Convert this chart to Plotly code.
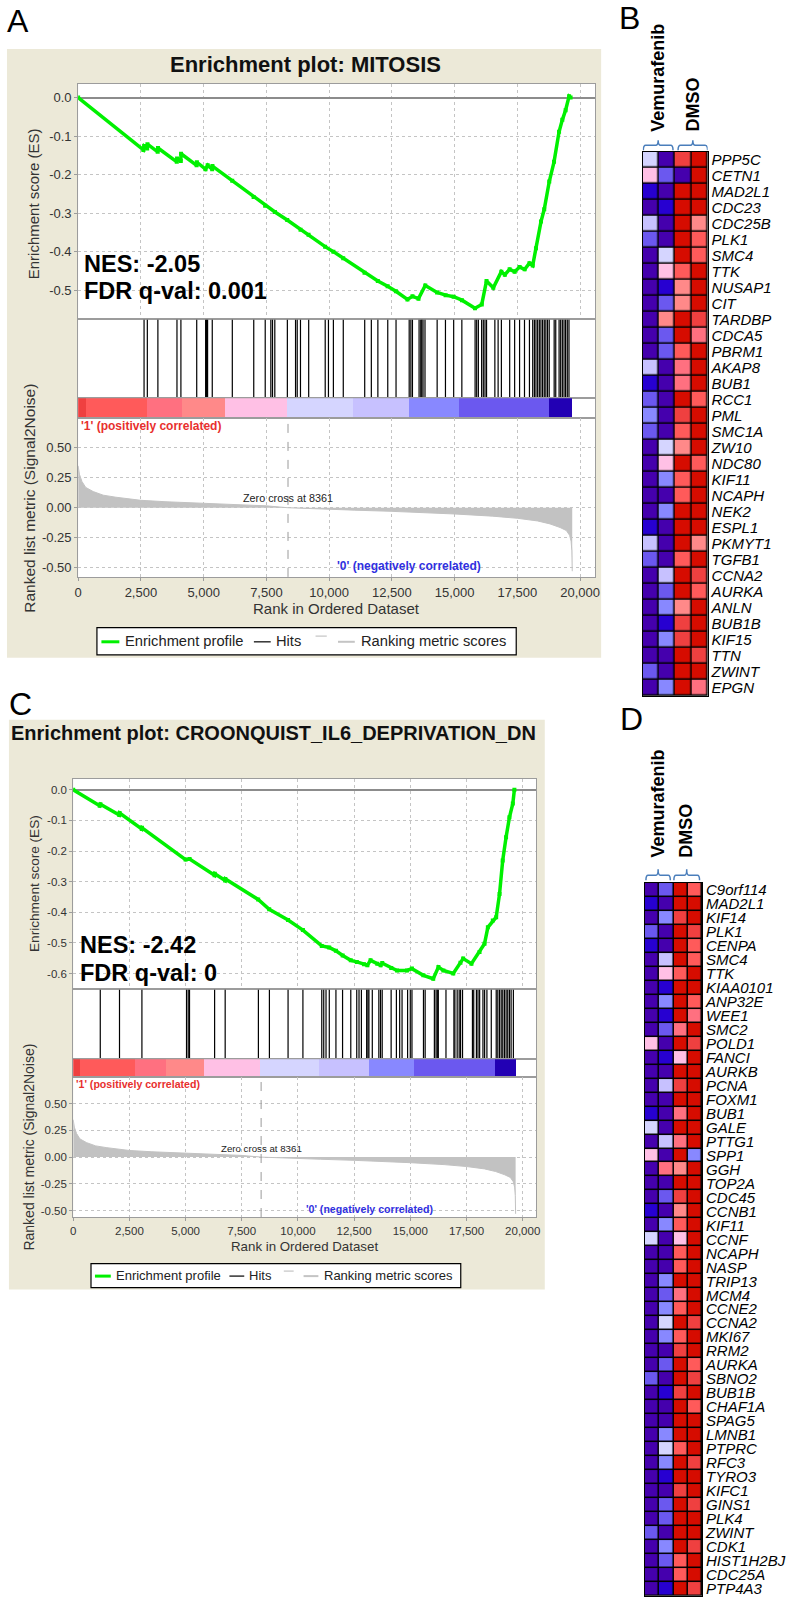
import plotly.graph_objects as go

W, H = 792, 1599

# ===================== DATA =====================
rank_ticks = [0, 2500, 5000, 7500, 10000, 12500, 15000, 17500, 20000]
es_ticks_a = [0.0, -0.1, -0.2, -0.3, -0.4, -0.5]
es_ticks_c = [0.0, -0.1, -0.2, -0.3, -0.4, -0.5, -0.6]
metric_ticks = [0.50, 0.25, 0.00, -0.25, -0.50]

title_a = "Enrichment plot: MITOSIS"
title_c = "Enrichment plot: CROONQUIST_IL6_DEPRIVATION_DN"
nes_a, fdr_a = "-2.05", "0.001"
nes_c, fdr_c = "-2.42", "0"
legend_names = ['Enrichment profile', 'Hits', '', 'Ranking metric scores']

es_a_rank = [0, 2600, 2630, 2750, 2760, 3170, 3180, 3930, 3940, 4090, 4100, 4720, 4730,
             5075, 5160, 5340, 5350, 6140, 6990, 7450, 7840, 8330, 8860, 9180, 9840,
             10170, 10560, 11410, 11940, 12330, 12660, 13120, 13320, 13560, 13830,
             14300, 14640, 14960, 15290, 15810, 16080, 16270, 16540, 16860, 17000,
             17190, 17390, 17590, 17790, 17980, 18110, 18240, 18440, 18570, 18770,
             18960, 19160, 19290, 19420, 19560, 19620]
es_a_val = [0.0, -0.136, -0.126, -0.132, -0.121, -0.141, -0.131, -0.167, -0.158, -0.165,
            -0.146, -0.176, -0.168, -0.186, -0.176, -0.186, -0.178, -0.216, -0.258,
            -0.281, -0.297, -0.318, -0.343, -0.356, -0.387, -0.400, -0.417, -0.455,
            -0.476, -0.490, -0.503, -0.524, -0.516, -0.522, -0.488, -0.506, -0.513,
            -0.517, -0.526, -0.547, -0.537, -0.476, -0.494, -0.452, -0.460, -0.446,
            -0.452, -0.440, -0.446, -0.430, -0.436, -0.391, -0.322, -0.290, -0.218,
            -0.167, -0.089, -0.058, -0.033, 0.003, 0.0]

hits_a = [2626, 2756, 3177, 3937, 4094, 4724, 5079, 5118, 5157, 5343, 6142, 6996, 7453,
          7677, 7744, 7835, 8335, 8661, 8728, 8858, 9185, 9843, 9972, 10169, 10563,
          11417, 11681, 11941, 12335, 12665, 13189, 13256, 13319, 13583, 13650, 13689,
          13740, 13819, 14303, 14634, 14961, 15287, 15815, 15878, 15945, 16075, 16142,
          16209, 16271, 16602, 16732, 16862, 17193, 17390, 17587, 17783, 17980, 18110,
          18177, 18240, 18307, 18374, 18437, 18504, 18571, 18634, 18701, 18768, 18965,
          19028, 19161, 19224, 19291, 19358, 19421, 19488, 19555]

es_c_rank = [0, 1180, 1210, 2050, 2065, 3050, 3060, 5000, 5180, 6290, 6300, 6760, 6770,
             8230, 8720, 9560, 10220, 11060, 11390, 11690, 11990, 12350, 12620, 12940,
             13090, 13230, 13530, 13680, 13750, 14150, 14410, 14850, 15070, 15580,
             16020, 16250, 16470, 16910, 17230, 17350, 17720, 18080, 18300, 18450,
             18670, 18820, 18970, 19110, 19260, 19410, 19560, 19630]
es_c_val = [0.0, -0.052, -0.047, -0.082, -0.076, -0.128, -0.124, -0.228, -0.226, -0.279,
            -0.274, -0.296, -0.291, -0.358, -0.390, -0.425, -0.458, -0.510, -0.515,
            -0.526, -0.541, -0.557, -0.562, -0.570, -0.573, -0.557, -0.568, -0.573,
            -0.566, -0.582, -0.590, -0.590, -0.584, -0.606, -0.617, -0.579, -0.590,
            -0.600, -0.565, -0.551, -0.568, -0.530, -0.503, -0.449, -0.427, -0.416,
            -0.340, -0.231, -0.155, -0.090, -0.045, 0.0]

hits_c = [1204, 2060, 3057, 5042, 5117, 5175, 6292, 6762, 8240, 8730, 9560, 10221, 11060,
          11147, 11249, 11394, 11690, 11985, 12351, 12616, 12717, 12823, 13057, 13114,
          13158, 13308, 13599, 13674, 13749, 14146, 14380, 14526, 14632, 14879, 14998,
          15073, 15585, 15660, 16070, 16145, 16202, 16246, 16586, 16939, 16983, 17084,
          17173, 17235, 17323, 17764, 17821, 17940, 18011, 18085, 18231, 18306, 18408,
          18602, 18822, 18893, 18968, 19043, 19113, 19188, 19262, 19334, 19409, 19484,
          19585]

metric_rank = [0, 50, 150, 300, 600, 1000, 1500, 2500, 3500, 5000, 6500, 7500, 8361, 9000,
               10000, 11000, 12500, 14000, 15000, 16500, 17500, 18300, 18800, 19200, 19450,
               19580, 19640, 19670, 19685]
metric_val = [0.35, 0.28, 0.22, 0.17, 0.135, 0.105, 0.088, 0.062, 0.05, 0.037, 0.025, 0.016,
              0.0, -0.006, -0.013, -0.02, -0.03, -0.042, -0.052, -0.07, -0.088, -0.11,
              -0.135, -0.165, -0.19, -0.23, -0.28, -0.36, -0.53]
zero_cross = 8361

bar_edges = [0, 330, 2750, 4130, 5840, 8335, 10960, 13190, 15160, 18770, 19690]
bar_colors = ['#EF4040', '#FF5A5A', '#FF7080', '#FF8989', '#FFC0E5', '#D5D5FF',
              '#C7C1FF', '#8888FF', '#6B58EF', '#2200B4']

palette = ['#4500AD', '#2700D1', '#6B58EF', '#8888FF', '#C7C1FF', '#D5D5FF',
           '#FFC0E5', '#FF8989', '#FF7080', '#FF5A5A', '#EF4040', '#D60C00']

groups = ['Vemurafenib', 'DMSO']

genes_b = ['PPP5C', 'CETN1', 'MAD2L1', 'CDC23', 'CDC25B', 'PLK1', 'SMC4', 'TTK', 'NUSAP1',
           'CIT', 'TARDBP', 'CDCA5', 'PBRM1', 'AKAP8', 'BUB1', 'RCC1', 'PML', 'SMC1A',
           'ZW10', 'NDC80', 'KIF11', 'NCAPH', 'NEK2', 'ESPL1', 'PKMYT1', 'TGFB1', 'CCNA2',
           'AURKA', 'ANLN', 'BUB1B', 'KIF15', 'TTN', 'ZWINT', 'EPGN']
b_vem1 = [5, 6, 1, 0, 4, 2, 0, 0, 0, 0, 0, 0, 0, 4, 1, 2, 3, 2, 0, 0, 0, 0, 0, 1, 4, 2, 0,
          0, 0, 0, 0, 0, 2, 0]
b_vem2 = [0, 2, 0, 1, 0, 0, 5, 6, 1, 2, 7, 2, 2, 0, 0, 0, 0, 0, 5, 6, 3, 0, 3, 0, 0, 0, 4,
          2, 3, 1, 3, 0, 0, 3]
b_dmso1 = [10, 0, 11, 11, 11, 11, 11, 9, 7, 7, 11, 11, 9, 8, 8, 11, 10, 9, 7, 11, 9, 9, 11,
           11, 11, 9, 11, 11, 7, 10, 10, 11, 11, 11]
b_dmso2 = [11, 11, 11, 11, 7, 9, 9, 11, 11, 11, 10, 8, 11, 11, 11, 9, 11, 11, 11, 9, 11, 11,
           11, 11, 7, 11, 10, 9, 11, 11, 11, 10, 11, 8]

genes_d = ['C9orf114', 'MAD2L1', 'KIF14', 'PLK1', 'CENPA', 'SMC4', 'TTK', 'KIAA0101',
           'ANP32E', 'WEE1', 'SMC2', 'POLD1', 'FANCI', 'AURKB', 'PCNA', 'FOXM1', 'BUB1',
           'GALE', 'PTTG1', 'SPP1', 'GGH', 'TOP2A', 'CDC45', 'CCNB1', 'KIF11', 'CCNF',
           'NCAPH', 'NASP', 'TRIP13', 'MCM4', 'CCNE2', 'CCNA2', 'MKI67', 'RRM2', 'AURKA',
           'SBNO2', 'BUB1B', 'CHAF1A', 'SPAG5', 'LMNB1', 'PTPRC', 'RFC3', 'TYRO3', 'KIFC1',
           'GINS1', 'PLK4', 'ZWINT', 'CDK1', 'HIST1H2BJ', 'CDC25A', 'PTP4A3']
d_vem1 = [0, 1, 0, 2, 1, 0, 0, 0, 0, 0, 0, 6, 0, 0, 0, 0, 1, 5, 0, 6, 0, 0, 0, 1, 0, 5, 0,
          0, 0, 0, 0, 0, 0, 0, 0, 2, 0, 0, 0, 0, 0, 0, 0, 0, 0, 0, 2, 0, 0, 0, 0]
d_vem2 = [2, 0, 3, 0, 0, 4, 6, 1, 3, 1, 2, 0, 1, 0, 4, 0, 0, 0, 4, 0, 8, 0, 2, 0, 3, 0, 0,
          0, 3, 2, 3, 5, 3, 0, 2, 0, 1, 0, 0, 3, 5, 3, 1, 0, 2, 2, 0, 3, 2, 0, 1]
d_dmso1 = [11, 11, 10, 11, 11, 11, 9, 11, 11, 11, 8, 11, 6, 11, 10, 11, 8, 11, 8, 11, 7, 11,
           10, 7, 9, 6, 9, 9, 11, 8, 9, 11, 9, 10, 11, 11, 10, 11, 11, 11, 9, 11, 11, 10, 11,
           11, 11, 11, 9, 9, 11]
d_dmso2 = [9, 11, 11, 10, 9, 9, 11, 11, 9, 8, 11, 10, 11, 11, 11, 11, 11, 11, 11, 3, 11, 11,
           11, 11, 11, 11, 11, 11, 11, 11, 11, 10, 11, 11, 9, 10, 11, 9, 11, 11, 11, 10, 11,
           11, 10, 11, 11, 10, 11, 11, 10]

# ===================== HELPERS =====================
FONT = 'Liberation Sans, Arial, sans-serif'


def px(x):
    return x / W


def py(y):
    return 1 - y / H


def aid(i, letter):
    return letter if i == 1 else f'{letter}{i}'


def lname(i, letter):
    return f'{letter}axis' if i == 1 else f'{letter}axis{i}'


fig = go.Figure()
layout = dict(width=W, height=H, margin=dict(l=0, r=0, t=0, b=0),
              paper_bgcolor='white', plot_bgcolor='white', showlegend=False,
              shapes=[], annotations=[], bargap=0)

GRID = dict(showgrid=True, gridcolor='#c4c4c4', griddash='dot', gridwidth=1)
FRAME = dict(showline=True, mirror=True, linecolor='#9c9c9c', linewidth=1)


def ann(text, x, y, size, color='black', xanchor='center', yanchor='middle',
        angle=0, xref='paper', yref='paper', family=FONT):
    layout['annotations'].append(dict(
        text=text, x=x, y=y, xref=xref, yref=yref, xanchor=xanchor, yanchor=yanchor,
        textangle=angle, showarrow=False, borderpad=0,
        font=dict(family=family, size=size, color=color)))


def pline(x0, x1, y0, y1, color, width, dash='solid'):
    layout['shapes'].append(dict(type='line', xref='paper', yref='paper', x0=px(x0),
                                 x1=px(x1), y0=py(y0), y1=py(y1),
                                 line=dict(color=color, width=width, dash=dash)))


def legend_box(left, cy, s, fs):
    h = 24 * s
    w = 374 * s
    layout['shapes'].append(dict(type='rect', xref='paper', yref='paper',
                                 x0=px(left), x1=px(left + w), y0=py(cy + h / 2),
                                 y1=py(cy - h / 2), fillcolor='white',
                                 line=dict(color='black', width=1.2)))
    # symbol offsets (relative to box left, in unscaled px), colour, width, raise
    syms = [(4, 20, '#00F000', 3, 0), (140, 155, '#333333', 1.5, 0),
            (195, 205, '#D0D0D0', 1.5, 5), (215, 230, '#C4C4C4', 2, 0)]
    texts = [24.5, 158.5, None, 234.5]
    for (a, b, col, wd, up), tx, name in zip(syms, texts, legend_names):
        pline(left + a * s, left + b * s, cy + 0.5 - up * s, cy + 0.5 - up * s, col, wd)
        if tx is not None:
            ann(name, px(left + tx * s), py(cy), fs, color='#222', xanchor='left')


def gsea_panel(n0, beige, xl, xr, rows, es_rng, met_rng, es_ticks, es_rank, es_val, hits,
               tick_fs, bold_fs, zero_fs, title, title_xy, title_fs, nes, fdr, nes_xy,
               ytitle_es, ytitle_met, xtitle_y, es_title_fs, met_title_fs, axis_fs,
               legend_left, legend_cy, legend_s, legend_fs):
    # beige panel background
    layout['shapes'].append(dict(type='rect', xref='paper', yref='paper', layer='below',
                                 x0=px(beige[0]), x1=px(beige[1]), y0=py(beige[3]),
                                 y1=py(beige[2]), fillcolor='#ECE9D8', line=dict(width=0)))
    yr = [es_rng, [0, 1], [0, 1], met_rng]
    for k in range(4):
        i = n0 + k
        top, bot = rows[k]
        xa = dict(domain=[px(xl), px(xr)], range=[0, 20600], anchor=aid(i, 'y'),
                  zeroline=False, tickvals=rank_ticks, showticklabels=False, ticks='',
                  showgrid=False, **FRAME)
        ya = dict(domain=[py(bot), py(top)], range=yr[k], anchor=aid(i, 'x'),
                  zeroline=False, showticklabels=False, ticks='', showgrid=False, **FRAME)
        if k in (0, 3):
            xa.update(GRID)
            ya.update(GRID)
        if k == 0:
            ya.update(tickvals=es_ticks, ticktext=[f'{v:.1f}' for v in es_ticks],
                      showticklabels=True, ticks='outside', ticklen=3, tickcolor='#9c9c9c',
                      tickfont=dict(family=FONT, size=tick_fs, color='#333'),
                      zeroline=True, zerolinecolor='#8c8c8c', zerolinewidth=1.5)
        if k == 3:
            ya.update(tickvals=metric_ticks, ticktext=[f'{v:.2f}' for v in metric_ticks],
                      showticklabels=True, ticks='outside', ticklen=3, tickcolor='#9c9c9c',
                      tickfont=dict(family=FONT, size=tick_fs, color='#333'))
            xa.update(showticklabels=True, tickformat=',d', ticks='outside', ticklen=3,
                      tickcolor='#9c9c9c', tickfont=dict(family=FONT, size=tick_fs, color='#333'))
        layout[lname(i, 'x')] = xa
        layout[lname(i, 'y')] = ya
        layout['shapes'].append(dict(type='rect', xref=f'{aid(i, "x")} domain',
                                     yref=f'{aid(i, "y")} domain', layer='below',
                                     x0=0, x1=1, y0=0, y1=1, fillcolor='white',
                                     line=dict(width=0)))
    xs = [aid(n0 + k, 'x') for k in range(4)]
    ys = [aid(n0 + k, 'y') for k in range(4)]
    # enrichment profile
    fig.add_trace(go.Scatter(x=es_rank, y=es_val, mode='lines+markers',
                             line=dict(color='#00F000', width=3.5),
                             marker=dict(symbol='square', size=4, color='#00F000'),
                             xaxis=xs[0], yaxis=ys[0], hoverinfo='skip'))
    # hits
    hx, hy = [], []
    for h in hits:
        hx += [h, h, None]
        hy += [0, 1, None]
    fig.add_trace(go.Scatter(x=hx, y=hy, mode='lines', line=dict(color='black', width=1.2),
                             xaxis=xs[1], yaxis=ys[1], hoverinfo='skip'))
    # ranked-list colour bar
    centers = [(a + b) / 2 for a, b in zip(bar_edges[:-1], bar_edges[1:])]
    widths = [b - a for a, b in zip(bar_edges[:-1], bar_edges[1:])]
    fig.add_trace(go.Bar(x=centers, y=[1] * len(centers), width=widths,
                         marker=dict(color=bar_colors, line=dict(width=0)),
                         xaxis=xs[2], yaxis=ys[2], hoverinfo='skip'))
    # ranking metric
    fig.add_trace(go.Scatter(x=metric_rank, y=metric_val, mode='lines', fill='tozeroy',
                             fillcolor='#C2C2C2', line=dict(color='#C2C2C2', width=1),
                             xaxis=xs[3], yaxis=ys[3], hoverinfo='skip'))
    layout['shapes'].append(dict(type='line', xref=xs[3], yref=f'{ys[3]} domain',
                                 x0=zero_cross, x1=zero_cross, y0=0, y1=1,
                                 line=dict(color='#9a9a9a', width=1, dash='dash')))
    # texts
    ann(f'<b>{title}</b>', px(title_xy[0]), py(title_xy[1]), title_fs, color='#111')
    ann(f'<b>NES: {nes}</b>', px(nes_xy[0]), py(nes_xy[1]), 23.5, xanchor='left')
    ann(f'<b>FDR q-val: {fdr}</b>', px(nes_xy[0]), py(nes_xy[2]), 23.5, xanchor='left')
    ann("<b>'1' (positively correlated)</b>", 60, 0.68, bold_fs, color='#E8302E',
        xanchor='left', xref=xs[3], yref=ys[3])
    ann(f'Zero cross at {zero_cross}', zero_cross, 0.083, zero_fs, color='#222',
        xref=xs[3], yref=ys[3])
    ann("<b>'0' (negatively correlated)</b>", 13190, -0.485, bold_fs, color='#3030E0',
        xref=xs[3], yref=ys[3])
    ann('Enrichment score (ES)', px(ytitle_es[0]), py(ytitle_es[1]), es_title_fs,
        color='#333', angle=-90)
    ann('Ranked list metric (Signal2Noise)', px(ytitle_met[0]), py(ytitle_met[1]),
        met_title_fs, color='#333', angle=-90)
    ann('Rank in Ordered Dataset', px((xl + xr) / 2), py(xtitle_y), axis_fs, color='#333')
    legend_box(legend_left, legend_cy, legend_s, legend_fs)


# ---- panel A ----
gsea_panel(1, beige=(3, 604, 47, 657), xl=75, xr=598,
           rows=[(82, 318), (318, 397), (397, 417), (417, 576)],
           es_rng=[-0.5759, 0.0355], met_rng=[-0.5775, 0.7475], es_ticks=es_ticks_a,
           es_rank=es_a_rank, es_val=es_a_val, hits=hits_a, tick_fs=13, bold_fs=12,
           zero_fs=10.8, title=title_a, title_xy=(305, 63), title_fs=22, nes=nes_a,
           fdr=fdr_a, nes_xy=(80, 262, 290), ytitle_es=(30, 202), ytitle_met=(25, 497),
           xtitle_y=608, es_title_fs=15, met_title_fs=15.5, axis_fs=15,
           legend_left=94, legend_cy=640.5, legend_s=1.134, legend_fs=14.7)

# ---- panel C ----
gsea_panel(5, beige=(5, 547, 719, 1290), xl=70, xr=538.3,
           rows=[(778, 989.3), (989.3, 1059.3), (1059.3, 1076.7), (1076.7, 1217.3)],
           es_rng=[-0.652, 0.0368], met_rng=[-0.56, 0.752], es_ticks=es_ticks_c,
           es_rank=es_c_rank, es_val=es_c_val, hits=hits_c, tick_fs=11.5, bold_fs=10.6,
           zero_fs=9.7, title=title_c, title_xy=(273, 732), title_fs=20, nes=nes_c,
           fdr=fdr_c, nes_xy=(76, 945, 973), ytitle_es=(31, 883), ytitle_met=(25, 1147),
           xtitle_y=1247, es_title_fs=13.6, met_title_fs=14, axis_fs=13.3,
           legend_left=88, legend_cy=1276, legend_s=1.0, legend_fs=13)

# ===================== HEATMAPS =====================
n_pal = len(palette)
cscale = []
for i, c in enumerate(palette):
    cscale.append([i / n_pal, c])
    cscale.append([(i + 1) / n_pal, c])


def heat_panel(i, genes, cols, xl, xr, top, bot, lab_fs, head_bottom, head_x,
               br_y, br_left, br_right):
    z = [[c[r] for c in cols] for r in range(len(genes))]
    xa_id, ya_id = aid(i, 'x'), aid(i, 'y')
    fig.add_trace(go.Heatmap(z=z, x=[0, 1, 2, 3], y=genes, colorscale=cscale,
                             zmin=-0.5, zmax=n_pal - 0.5, showscale=False,
                             xgap=1.5, ygap=1.5, xaxis=xa_id, yaxis=ya_id,
                             hoverinfo='skip'))
    layout[lname(i, 'x')] = dict(domain=[px(xl), px(xr)], range=[-0.5, 3.5],
                                 anchor=ya_id, showticklabels=False, showgrid=False,
                                 zeroline=False, ticks='', showline=True, mirror=True,
                                 linecolor='black', linewidth=1)
    layout[lname(i, 'y')] = dict(domain=[py(bot), py(top)], anchor=xa_id,
                                 autorange='reversed', side='right', showgrid=False,
                                 zeroline=False, ticks='', tickmode='array',
                                 tickvals=genes, ticktext=[f'<i>{g}</i>' for g in genes],
                                 tickfont=dict(family=FONT, size=lab_fs, color='black'),
                                 showline=True, mirror=True, linecolor='black',
                                 linewidth=1)
    layout['shapes'].append(dict(type='rect', xref=f'{xa_id} domain', yref=f'{ya_id} domain',
                                 layer='below', x0=0, x1=1, y0=0, y1=1,
                                 fillcolor='black', line=dict(width=0)))
    for g, hx in zip(groups, head_x):
        ann(f'<b>{g}</b>', hx, py(head_bottom), 18, angle=-90, yanchor='bottom',
            xref=xa_id)
    yb, yh, yt = py(br_y[0]), py(br_y[1]), py(br_y[2])
    for a, b in (br_left, br_right):
        m = (a + b) / 2
        d = 0.15
        path = (f'M {a},{yb} Q {a},{yh} {a + d},{yh} L {m - d},{yh} Q {m},{yh} {m},{yt} '
                f'Q {m},{yh} {m + d},{yh} L {b - d},{yh} Q {b},{yh} {b},{yb}')
        layout['shapes'].append(dict(type='path', xref=xa_id, yref='paper', path=path,
                                     line=dict(color='#4A7EBB', width=1.5)))


heat_panel(9, genes_b, [b_vem1, b_vem2, b_dmso1, b_dmso2], 646, 711.7, 150, 695, 15,
           head_bottom=131, head_x=[0.45, 2.59], br_y=(148.5, 143.5, 138.5),
           br_left=(-0.46, 1.37), br_right=(1.68, 3.5))
heat_panel(10, genes_d, [d_vem1, d_vem2, d_dmso1, d_dmso2], 648.3, 706, 882.7, 1596.7, 15,
           head_bottom=858, head_x=[0.43, 2.4], br_y=(880, 875, 869),
           br_left=(-0.43, 1.28), br_right=(1.53, 3.33))

# panel letters
for letter, x, y in [('A', 2, 19), ('B', 621, 16), ('C', 4, 703), ('D', 622, 718)]:
    ann(letter, px(x), py(y), 32, xanchor='left', family='Liberation Sans, Arial')

fig.update_layout(**layout)
fig.write_html('out.html', config={'displayModeBar': False},
               post_script="document.body.style.margin='0px';"
                           "document.body.style.padding='0px';"
                           "document.body.style.overflow='hidden';")
